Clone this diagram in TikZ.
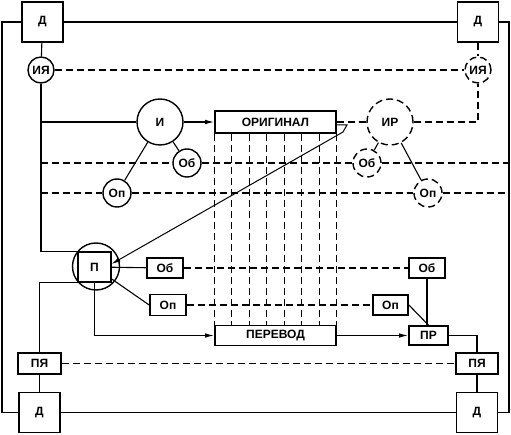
\documentclass[tikz,border=0pt]{standalone}
\usepackage{fontspec}
\setmainfont{Liberation Sans}
\usetikzlibrary{arrows.meta,calc}
\begin{document}
\begin{tikzpicture}[x=1pt,y=-1pt,line width=1.1pt,
  every node/.style={font=\bfseries\fontsize{12}{14}\selectfont,inner sep=0pt,fill=white},
  dbox/.style={draw,line width=1.9pt,minimum width=41pt,minimum height=40pt},
  rbox/.style={draw,line width=1.7pt,minimum width=#1},
  circ/.style={draw,circle,line width=1.4pt,minimum size=#1},
  dsh/.style={dash pattern=on 7pt off 4pt,line width=1.2pt},
  arr/.style={-{Latex[length=9pt,width=4.5pt]}}]
\useasboundingbox (0,0) rectangle (511,435);
% nodes
\node[dbox] (D1) at (42.5,22) {Д};
\node[dbox] (D2) at (478,22) {Д};
\node[dbox] (D3) at (39.5,412.5) {Д};
\node[dbox] (D4) at (477,412.5) {Д};
\node[circ=26pt] (IYa1) at (41,70) {ИЯ};
\node[circ=26pt,dsh,line width=1.4pt] (IYa2) at (478,70) {ИЯ};
\node[circ=46pt] (I) at (160,122) {И};
\node[circ=28pt] (Ob1) at (187,163) {Об};
\node[circ=28pt] (Op1) at (117,193) {Оп};
\node[rbox=121pt,minimum height=22pt] (Orig) at (275.5,122) {ОРИГИНАЛ};
\node[circ=46pt,dsh,line width=1.4pt] (IR) at (390,122) {ИР};
\node[circ=28pt,dsh,line width=1.4pt] (Ob2) at (367,163) {Об};
\node[circ=28pt,dsh,line width=1.4pt] (Op2) at (428,193) {Оп};
\node[circ=47pt,fill=none] (Pc) at (96,266.5) {};
\node[rbox=33pt,minimum height=30pt] (P) at (94.5,267) {П};
\node[rbox=36pt,minimum height=20pt] (Ob3) at (165,268) {Об};
\node[rbox=36pt,minimum height=21pt] (Op3) at (168,305) {Оп};
\node[rbox=121pt,minimum height=20pt] (Per) at (275.5,335.5) {ПЕРЕВОД};
\node[rbox=39pt,minimum height=19pt] (PR) at (428.5,335.5) {ПР};
\node[rbox=36pt,minimum height=20pt] (Ob4) at (427,268) {Об};
\node[rbox=35pt,minimum height=20pt] (Op4) at (390.5,305) {Оп};
\node[rbox=43pt,minimum height=21pt] (PYa1) at (39.5,363.5) {ПЯ};
\node[rbox=42pt,minimum height=21pt] (PYa2) at (477,363.5) {ПЯ};
% coordinates
\coordinate (TL) at (2,22);
\coordinate (BL) at (2,412.5);
\coordinate (TR) at (509,22);
\coordinate (BR) at (509,412.5);
\coordinate (j1) at (41,122);
\coordinate (j2) at (41,163);
\coordinate (e2) at (509,163);
\coordinate (j3) at (41,193);
\coordinate (e3) at (509,193);
\coordinate (h1) at (336,125);
\coordinate (h2) at (347,125);
\coordinate (h3) at (343,132);
\coordinate (tip) at (111.5,264);
% outer frame
\draw (D1.west) -- (TL) -- (BL) -- (D3.west);
\draw (D1.east) -- (D2.west);
\draw (D2.east) -- (TR) -- (BR) -- (D4.east);
\draw (D3.east) -- (D4.west);
% top part
\draw (D1) -- (IYa1);
\draw[dsh] (D2) -- (IYa2);
\draw[dsh] (IYa1) -- (IYa2);
\draw (IYa1.south) |- (P.north west);
\draw (j1) -- (I);
\draw[arr] (I) -- (Orig);
\draw (I) -- (Ob1);
\draw (I) -- (Op1);
\draw[dsh] (j2) -- (Ob1) -- (Ob2) -- (e2);
\draw[dsh] (j3) -- (Op1) -- (Op2) -- (e3);
\draw[dsh] (Orig) -- (IR);
\draw[dsh] (IR.east) -| (IYa2.south);
\draw (IR) -- (Ob2);
\draw (IR) -- (Op2);
% vertical dashed lines
\foreach \t in {0,1,2,3,4,5,6,7}{
  \draw[dsh] ($(Orig.south west)!\t/7!(Orig.south east)$) -- ($(Per.north west)!\t/7!(Per.north east)$);
}
% diagonal arrow
\draw[arr,line width=1pt] (h1) -- (h2) -- (h3) -- (tip);
% lower part
\draw (P) -- (Ob3);
\draw (P) -- (Op3.west);
\draw[dsh] (Ob3) -- (Ob4);
\draw[dsh] (Op3) -- (Op4);
\draw[arr] (P.south) |- (Per.west);
\draw[arr] (Per) -- (PR);
\draw (Ob4.south) -- (Ob4.south |- PR.north);
\draw (Op4.east) -- (PR.north);
\draw (PR.east) -| (PYa2.north);
\draw (PYa2) -- (D4);
\draw (PYa1) -- (D3);
\draw (P.south west) -| (PYa1.north);
\draw[dsh] (PYa1) -- (PYa2);
\end{tikzpicture}
\end{document}
